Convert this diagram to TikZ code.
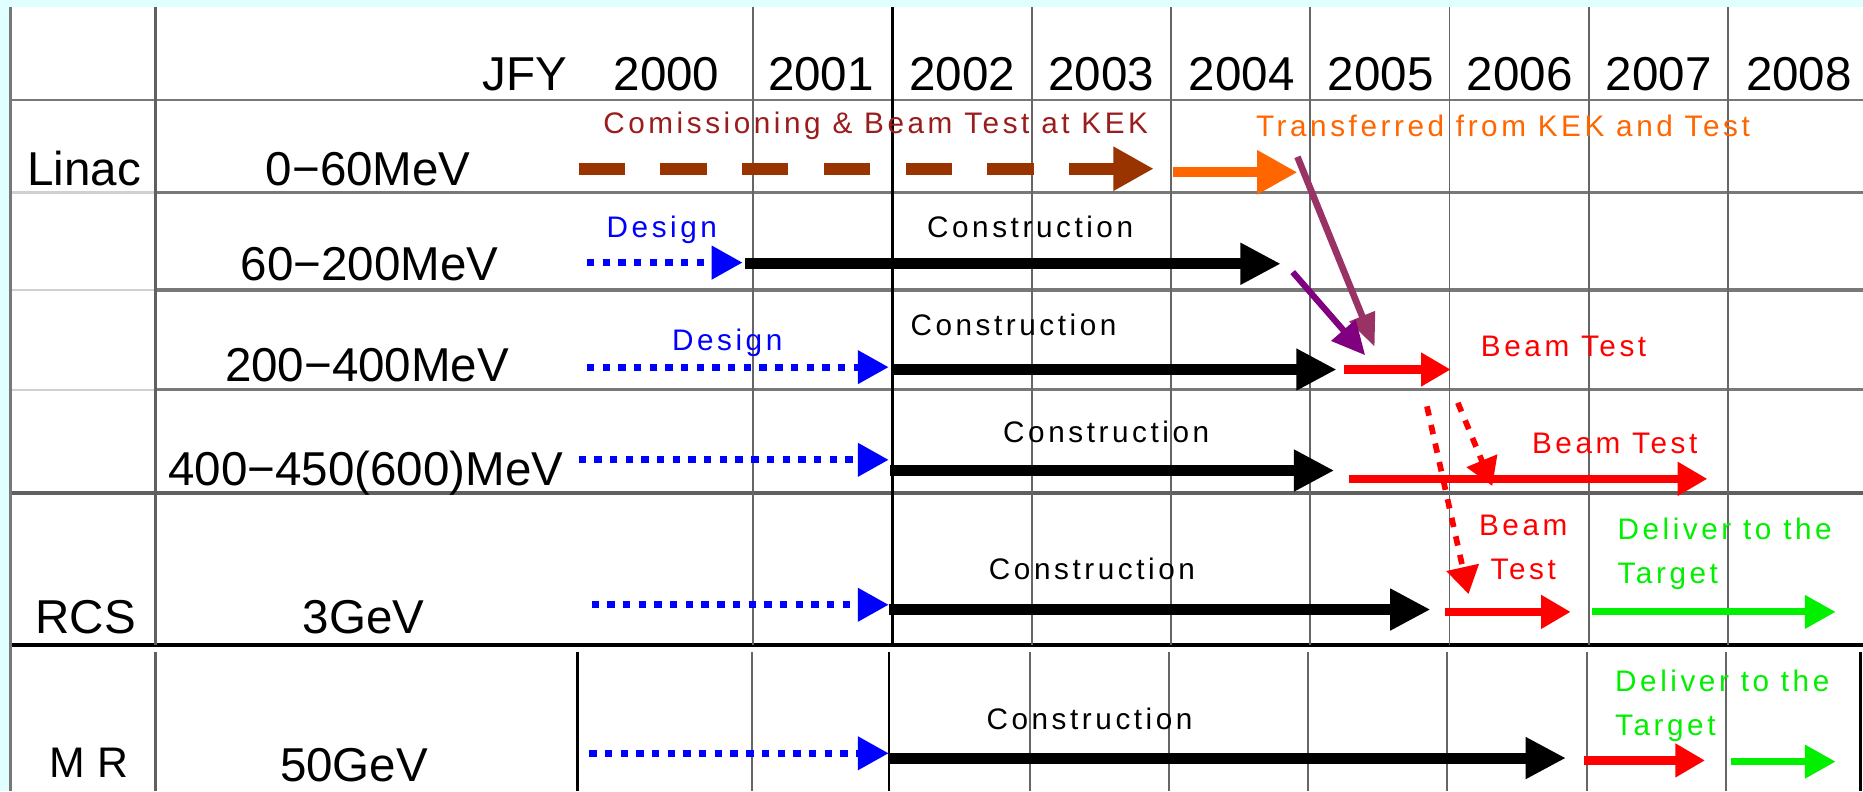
\documentclass[tikz,border=0pt]{standalone}
\usepackage{fontspec}
\setmainfont{Liberation Sans}
\newfontfamily\rotulo[LetterSpace=12]{Liberation Sans}
\usetikzlibrary{arrows.meta}

\definecolor{fundo}{RGB}{224,255,255}
\definecolor{marrom}{RGB}{153,51,0}
\definecolor{vinho}{RGB}{155,28,28}
\definecolor{laranja}{RGB}{255,102,0}
\definecolor{malva}{RGB}{153,51,102}
\definecolor{roxo}{RGB}{128,0,128}
\definecolor{verde}{RGB}{0,240,0}
\definecolor{grade}{RGB}{120,120,120}

\tikzset{
    grande/.style={font=\fontsize{20}{24}\selectfont, anchor=base, inner sep=0pt},
    pequeno/.style={font=\rotulo\fontsize{12.5}{18.5}\selectfont, anchor=base, inner sep=0pt},
    projeto/.style={blue, line width=2.9pt, dash pattern=on 3.1pt off 3.5pt, -{Triangle[length=13pt,width=13.5pt]}},
    obra/.style={black, line width=4.6pt, -{Triangle[length=17pt,width=16.5pt]}},
    teste/.style={red, line width=3.6pt, -{Triangle[length=12.5pt,width=13.5pt]}},
    entrega/.style={verde, line width=3pt, -{Triangle[length=13pt,width=13.5pt]}},
    pontilhado/.style={red, line width=2.4pt, dash pattern=on 4pt off 4pt, -{Triangle[length=11.5pt,width=13.5pt]}},
}

\begin{document}
\begin{tikzpicture}[x=0.5pt, y=-0.5pt]
    \useasboundingbox (0,0) rectangle (1568,666);

    % Fundo
    \fill[fundo] (0,0) rectangle (1568,666);
    \fill[white] (8,6) rectangle (1568,666);

    % Grade
    \foreach \y in {162, 244, 328}
        \draw[grade!35, line width=0.9pt] (8,\y) -- (132,\y);
    \foreach \y/\w in {84/1.1pt, 162/1.1pt, 244/1.5pt, 328/1.1pt}
        \draw[grade, line width=\w] (132,\y) -- (1568,\y);
    \draw[grade, line width=1.1pt] (8,84) -- (132,84);
    \draw[grade!80!black, line width=1.5pt] (8,415) -- (1568,415);
    \draw[black, line width=1.6pt] (8,543) -- (1568,543);

    \foreach \i in {0,...,7}
        \draw[black!60, line width=0.8pt] (634+117.2*\i,6) -- (634+117.2*\i,543);
    \draw[black, line width=1pt] (751.2,6) -- (751.2,543);

    \draw[grade, line width=1.2pt] (9,6) -- (9,666);
    \draw[grade!80!black, line width=1.1pt] (131,6) -- (131,543);

    % MR (tabela de baixo)
    \draw[grade!80!black, line width=1.1pt] (131,549) -- (131,666);
    \foreach \x in {633, 867, 984, 1101, 1218, 1336, 1453}
        \draw[black!60, line width=0.8pt] (\x,549) -- (\x,666);
    \draw[black, line width=0.9pt] (486,549) -- (486,666);
    \draw[black, line width=1pt] (748,549) -- (748,666);
    \draw[black, line width=1pt] (1566,549) -- (1566,666);

    % Anos
    \node[grande] (jfy) at (442,76) {JFY};
    \foreach \a/\x in {2000/561, 2001/691, 2002/810, 2003/927, 2004/1045,
                       2005/1162, 2006/1279, 2007/1396, 2008/1514}
        \node[grande] (ano\a) at (\x,76) {\a};

    % Rotulos das linhas
    \node[grande] (linac) at (71,156) {Linac};
    \node[grande] (faixa1) at (310,156) {0−60MeV};
    \node[grande] (faixa2) at (311,236) {60−200MeV};
    \node[grande] (faixa3) at (309,321) {200−400MeV};
    \node[grande] (faixa4) at (308,409) {400−450(600)MeV};
    \node[grande] (rcs) at (72,533) {RCS};
    \node[grande] (faixa5) at (306,533) {3GeV};
    \node[grande, font=\fontsize{18}{22}\selectfont] (mr) at (75,654) {M\hspace{5pt}R};
    \node[grande] (faixa6) at (298,658) {50GeV};

    % Textos das etapas
    \node[pequeno, vinho] (kek) at (737,112) {Comissioning \& Beam Test at KEK};
    \node[pequeno, laranja] (transf) at (1265,115) {Transferred from KEK and Test};
    \node[pequeno, blue] (proj2) at (557,200) {Design};
    \node[pequeno] (obra2) at (867,200) {Construction};
    \node[pequeno, blue] (proj3) at (612,295) {Design};
    \node[pequeno] (obra3) at (853,282) {Construction};
    \node[pequeno, red] (teste3) at (1316,300) {Beam Test};
    \node[pequeno] (obra4) at (931,372) {Construction};
    \node[pequeno, red] (teste4) at (1359,382) {Beam Test};
    \node[pequeno, red, align=center] (teste5) at (1282,488) {Beam\\Test};
    \node[pequeno] (obra5) at (919,488) {Construction};
    \node[pequeno, verde, align=left, anchor=base west] (alvo5) at (1361,491) {Deliver to the\\Target};
    \node[pequeno] (obra6) at (917,614) {Construction};
    \node[pequeno, verde, align=left, anchor=base west] (alvo6) at (1359,619) {Deliver to the\\Target};

    % Setas - Linac 0-60MeV
    \draw[marrom, line width=5pt, dash pattern=on 19.5pt off 14.9pt,
          -{Triangle[length=17pt,width=17.5pt]}] (487,142) -- (971,142);
    \draw[laranja, line width=4.2pt, -{Triangle[length=17pt,width=17.5pt]}] (987,145) -- (1092,145);

    % 60-200MeV
    \draw[projeto] (494,221) -- (625,221);
    \draw[obra] (627,222) -- (1078,222);

    % 200-400MeV
    \draw[projeto] (494,309) -- (748,309);
    \draw[obra] (750,311) -- (1125,311);
    \draw[teste] (1131,311) -- (1221,311);

    % 400-450(600)MeV
    \draw[projeto] (487,387) -- (748,387);
    \draw[obra] (749,396) -- (1123,396);
    \draw[teste] (1135,403) -- (1437,403);

    % RCS
    \draw[projeto] (498,509) -- (748,509);
    \draw[obra] (748,513) -- (1204,513);
    \draw[teste] (1216,515) -- (1322,515);
    \draw[entrega] (1340,515) -- (1545,515);

    % MR
    \draw[projeto] (496,634) -- (748,634);
    \draw[obra] (748,638) -- (1318,638);
    \draw[teste] (1333,640) -- (1435,640);
    \draw[entrega] (1457,641) -- (1545,641);

    % Transferencias
    \draw[malva, line width=2.8pt, -{Triangle[length=14pt,width=11pt]}] (1092,132) -- (1157,292);
    \draw[roxo, line width=2.6pt, -{Triangle[length=14pt,width=13pt]}] (1088,229) -- (1149,299);
    \draw[pontilhado] (1227,339) -- (1256,409);
    \draw[pontilhado] (1201,342) -- (1236,500);
\end{tikzpicture}
\end{document}
